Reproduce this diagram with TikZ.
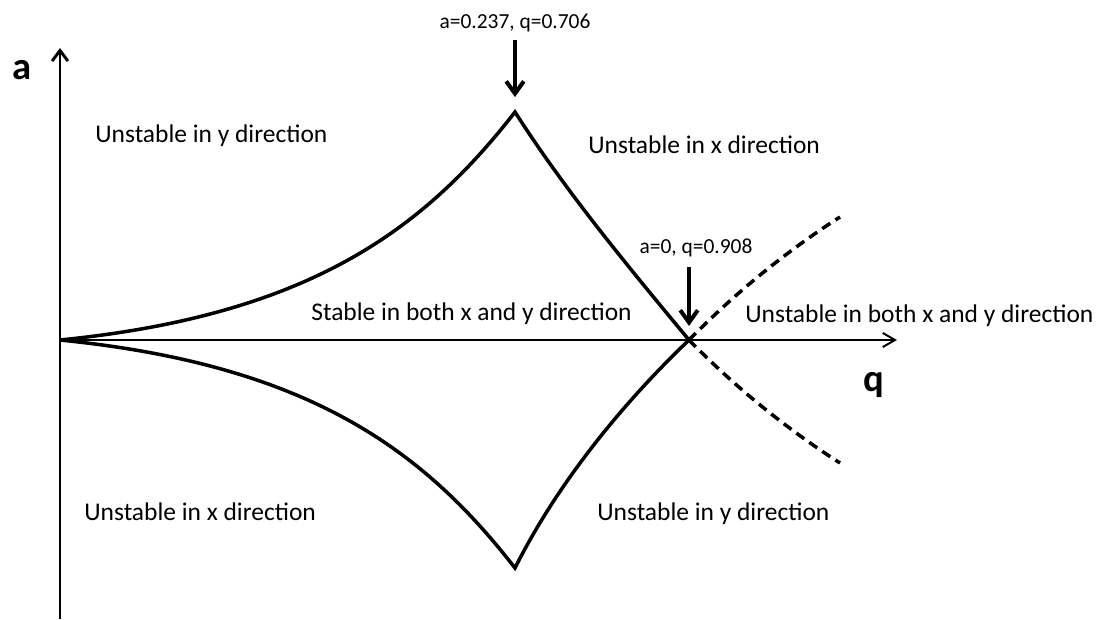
\documentclass[tikz,border=0pt]{standalone}
\usepackage{fontspec}
\setmainfont{Carlito}
\usetikzlibrary{arrows.meta,positioning}
\tikzset{
  axisline/.style={line width=1.7pt,-{Straight Barb[length=6pt,width=9pt]}},
  qaxisline/.style={line width=1.1pt,-{Straight Barb[length=7pt,width=8pt]}},
  boundary/.style={line width=2pt},
  unstablebranch/.style={line width=2pt,dash pattern=on 5.5pt off 3.5pt},
  callout/.style={line width=2.3pt,-{Straight Barb[length=7pt,width=10pt]}},
  regionlabel/.style={inner sep=0pt,anchor=base west,font=\fontsize{14.5}{17}\selectfont},
  pointlabel/.style={inner sep=0pt,anchor=base,font=\fontsize{12.2}{14}\selectfont},
  axislabel/.style={inner sep=0pt,anchor=base west,font=\fontsize{22}{26}\selectfont\bfseries},
}
\begin{document}
\begin{tikzpicture}[x=0.02cm,y=-0.02cm]
        \useasboundingbox (0,0) rectangle (1099,619);
        % corner points of the stability region
        \coordinate (O) at (60,340);
        \coordinate (peak) at (515,112);
        \coordinate (cusp) at (515,568);
        \coordinate (cross) at (689,340);
        \coordinate (aTop) at (60,48);
        \coordinate (aBot) at (60,619);
        \coordinate (qEnd) at (897,340);
        % axes
        \draw[axisline] (aBot) -- (aTop);
        \draw[qaxisline] (O) -- (qEnd);
        \node[axislabel] (alab) at (12,79) {a};
        \node[axislabel] (qlab) at (863,391) {q};
        % boundaries
        \draw[boundary] (O) .. controls (310,315) and (424,229) .. (peak)
          .. controls (566,192) and (631,270) .. (cross);
        \draw[boundary] (O) .. controls (310,365) and (424,451) .. (cusp)
          .. controls (558,482) and (624,402) .. (cross);
        \draw[unstablebranch] (cross) .. controls (738,290) and (790,249) .. (840,217);
        \draw[unstablebranch] (cross) .. controls (738,390) and (790,431) .. (840,463);
        % region labels
        \node[regionlabel] (uyTop) at (95,142) {Unstable in y direction};
        \node[regionlabel] (uxTop) at (588,153) {Unstable in x direction};
        \node[regionlabel] (stab) at (311,320) {Stable in both x and y direction};
        \node[regionlabel] (uboth) at (745,322) {Unstable in both x and y direction};
        \node[regionlabel] (uxBot) at (84,520) {Unstable in x direction};
        \node[regionlabel] (uyBot) at (597,520) {Unstable in y direction};
        % marked points
        \node[pointlabel] (lblTop) at (515,28) {a=0.237, q=0.706};
        \node[pointlabel] (lblCross) at (696,253) {a=0, q=0.908};
        \draw[callout,shorten <=4.5pt,shorten >=8.5pt] (lblTop.south) -- (peak);
        \draw[callout,shorten <=6pt,shorten >=8pt] (lblCross.south -| cross) -- (cross);
      \end{tikzpicture}
\end{document}
